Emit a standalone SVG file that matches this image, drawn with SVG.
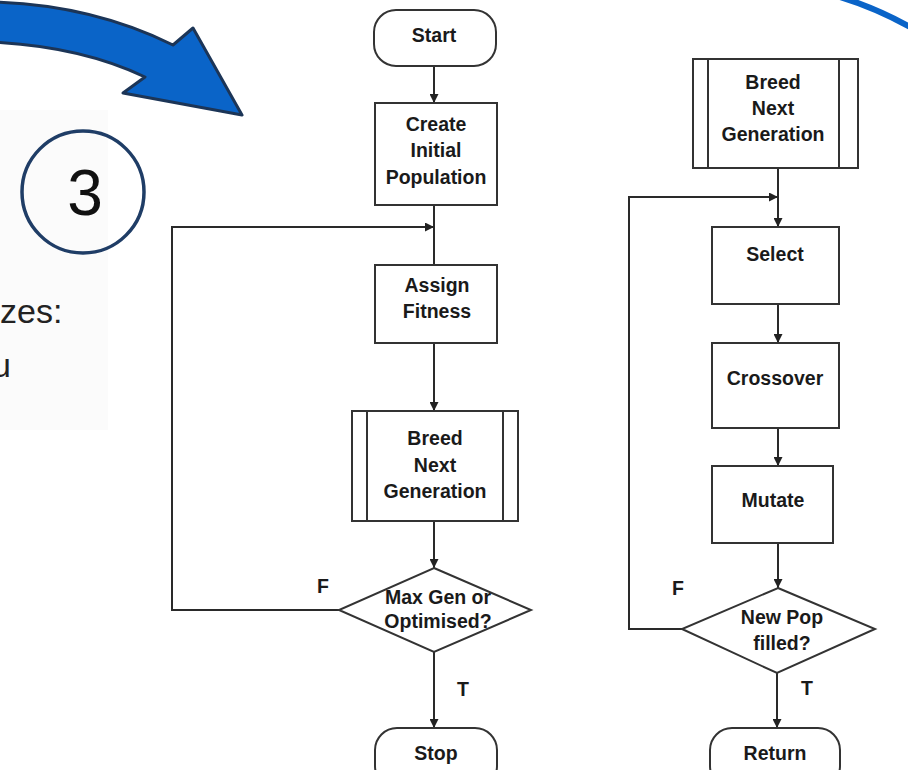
<svg xmlns="http://www.w3.org/2000/svg" width="908" height="770" viewBox="0 0 908 770">
<defs>
<marker id="ah" viewBox="0 0 10 10" refX="10" refY="5" markerWidth="9" markerHeight="9" markerUnits="userSpaceOnUse" orient="auto">
<path d="M0,0 L10,5 L0,10 Z" fill="#222"/>
</marker>
<style>
.b{fill:#fff;stroke:#333;stroke-width:2}
.l{fill:none;stroke:#333;stroke-width:2}
.t{font-family:"Liberation Sans",Arial,sans-serif;font-weight:bold;font-size:19.5px;fill:#1a1a1a;text-anchor:middle}
.c{fill:none;stroke:#2a2a2a;stroke-width:2}
</style>
</defs>
<rect x="0" y="0" width="908" height="770" fill="#fff"/>
<rect x="0" y="110" width="108" height="320" fill="#fbfbfb"/>
<g id="bigArrow">
<path d="M-10,2 Q90,4 173,45 L193,28 L242,115 L123,93 L145,77 Q80,46 -10,42 Z" fill="#0a64c8" stroke="#1c3557" stroke-width="3" stroke-linejoin="round"/>
</g>
<g id="arc"><path d="M840,-3 Q876,8 912,28" fill="none" stroke="#0a64c8" stroke-width="6"/></g>
<g id="step3">
<circle cx="83" cy="192" r="61" fill="none" stroke="#1f3d66" stroke-width="3.5"/>
<text x="85" y="215" font-family="'Liberation Sans',Arial,sans-serif" font-size="64" text-anchor="middle" fill="#111">3</text>
</g>
<g id="sideText" font-family="'Liberation Sans',Arial,sans-serif" font-size="34" fill="#222">
<text x="0" y="323">zes:</text>
<text x="-8" y="377">u</text>
</g>
<g id="connectors">
<line class="c" x1="434" y1="66" x2="434" y2="103" marker-end="url(#ah)"/>
<line class="c" x1="434" y1="205" x2="434" y2="265"/>
<polyline class="c" points="339,610 172,610 172,227 434,227" marker-end="url(#ah)"/>
<line class="c" x1="434" y1="343" x2="434" y2="411" marker-end="url(#ah)"/>
<line class="c" x1="434" y1="521" x2="434" y2="568" marker-end="url(#ah)"/>
<line class="c" x1="434" y1="652" x2="434" y2="728" marker-end="url(#ah)"/>
<line class="c" x1="778" y1="168" x2="778" y2="227" marker-end="url(#ah)"/>
<polyline class="c" points="682,629 629,629 629,197 778,197" marker-end="url(#ah)"/>
<line class="c" x1="778" y1="304" x2="778" y2="343" marker-end="url(#ah)"/>
<line class="c" x1="778" y1="428" x2="778" y2="466" marker-end="url(#ah)"/>
<line class="c" x1="778" y1="543" x2="778" y2="588" marker-end="url(#ah)"/>
<line class="c" x1="777" y1="673" x2="777" y2="728" marker-end="url(#ah)"/>
<text class="t" x="323" y="593">F</text>
<text class="t" x="463" y="696">T</text>
<text class="t" x="678" y="595">F</text>
<text class="t" x="807" y="695">T</text>
</g>
<g id="start">
<rect class="b" x="374" y="10" width="122" height="56" rx="22"/>
<text class="t" x="434" y="42">Start</text>
</g>
<g id="create">
<rect class="b" x="375" y="103" width="122" height="102"/>
<text class="t" x="436" y="131">Create</text>
<text class="t" x="436" y="157">Initial</text>
<text class="t" x="436" y="184">Population</text>
</g>
<g id="assign">
<rect class="b" x="375" y="265" width="122" height="78"/>
<text class="t" x="437" y="292">Assign</text>
<text class="t" x="437" y="318">Fitness</text>
</g>
<g id="breed1">
<rect class="b" x="352" y="411" width="166" height="110"/>
<line class="l" x1="367" y1="411" x2="367" y2="521"/>
<line class="l" x1="503" y1="411" x2="503" y2="521"/>
<text class="t" x="435" y="445">Breed</text>
<text class="t" x="435" y="472">Next</text>
<text class="t" x="435" y="498">Generation</text>
</g>
<g id="maxgen">
<polygon class="b" points="434,568 531,610 434,652 339,610"/>
<text class="t" x="438" y="604" font-size="18">Max Gen or</text>
<text class="t" x="438" y="628" font-size="18">Optimised?</text>
</g>
<g id="stop">
<rect class="b" x="375" y="728" width="122" height="60" rx="22"/>
<text class="t" x="436" y="760">Stop</text>
</g>
<g id="breed2">
<rect class="b" x="693" y="59" width="165" height="109"/>
<line class="l" x1="708" y1="59" x2="708" y2="168"/>
<line class="l" x1="839" y1="59" x2="839" y2="168"/>
<text class="t" x="773" y="89">Breed</text>
<text class="t" x="773" y="115">Next</text>
<text class="t" x="773" y="141">Generation</text>
</g>
<g id="select">
<rect class="b" x="712" y="227" width="127" height="77"/>
<text class="t" x="775" y="261">Select</text>
</g>
<g id="crossover">
<rect class="b" x="712" y="343" width="127" height="85"/>
<text class="t" x="775" y="385">Crossover</text>
</g>
<g id="mutate">
<rect class="b" x="712" y="466" width="121" height="77"/>
<text class="t" x="773" y="507">Mutate</text>
</g>
<g id="newpop">
<polygon class="b" points="778,588 875,629 777,673 682,629"/>
<text class="t" x="782" y="624" font-size="18">New Pop</text>
<text class="t" x="782" y="650" font-size="18">filled?</text>
</g>
<g id="return">
<rect class="b" x="710" y="728" width="130" height="60" rx="22"/>
<text class="t" x="775" y="760">Return</text>
</g>
</svg>
